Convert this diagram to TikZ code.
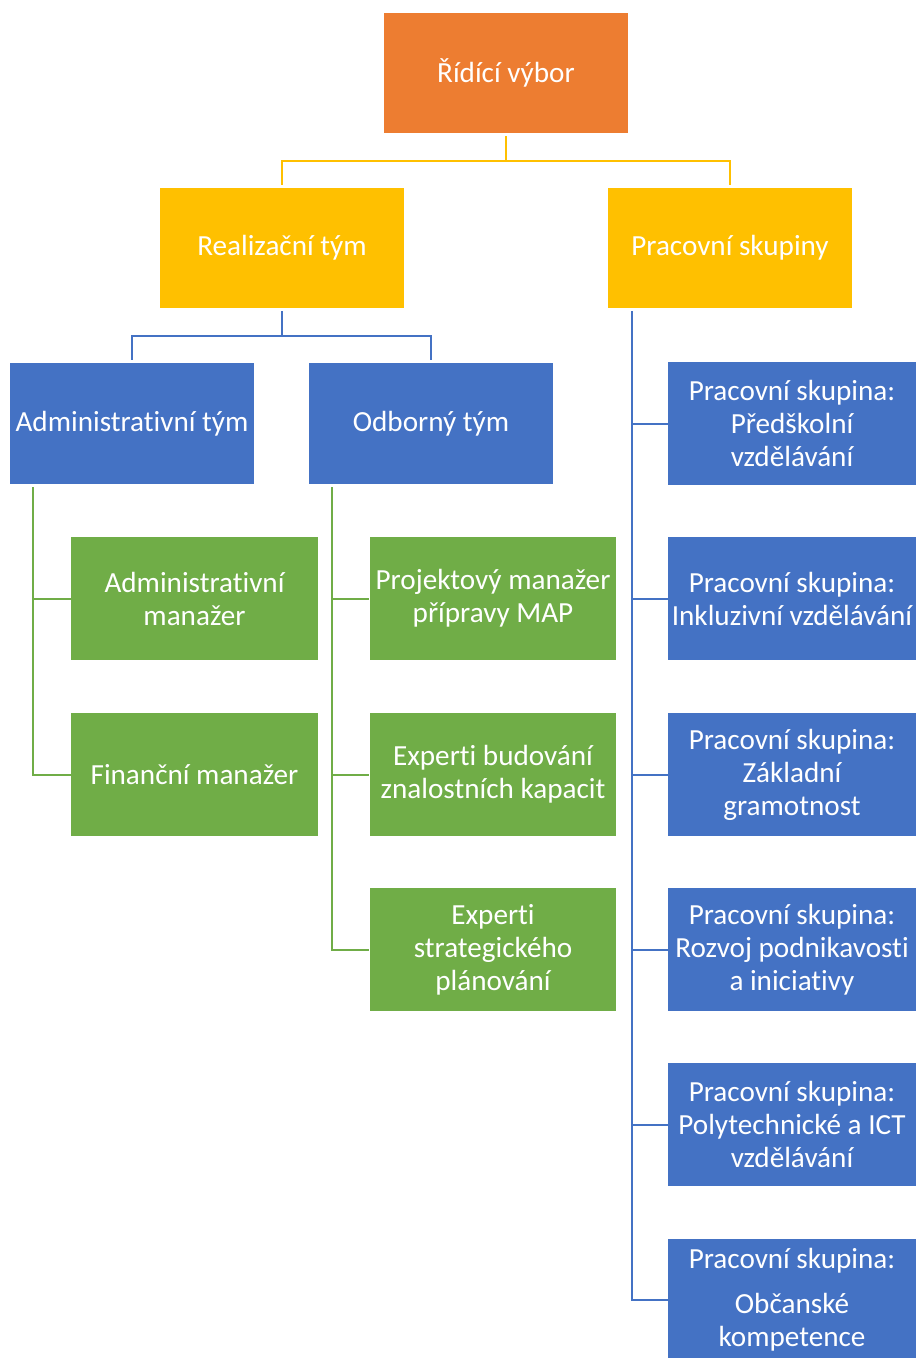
\documentclass[tikz,border=0pt]{standalone}
\usepackage{fontspec}
\setmainfont{Carlito}[RawFeature={-liga;-clig;-calt}]
\usetikzlibrary{calc}
\definecolor{orgorange}{HTML}{ED7D31}
\definecolor{orgyellow}{HTML}{FFC000}
\definecolor{orgblue}{HTML}{4472C4}
\definecolor{orggreen}{HTML}{70AD47}
\tikzset{
  orgbox/.style={text=white, align=center, inner sep=1pt,
    font=\fontsize{16.6}{18.8}\selectfont},
  topbox/.style={orgbox, minimum width=4.88cm, minimum height=2.4cm},
  teambox/.style={orgbox, fill=orgblue, minimum width=4.88cm, minimum height=2.42cm},
  memberbox/.style={orgbox, fill=orggreen, minimum width=4.94cm, minimum height=2.46cm},
  groupbox/.style={orgbox, fill=orgblue, minimum width=4.96cm, minimum height=2.46cm},
  link/.style={line width=0.04cm, shorten <=0.06cm, shorten >=0.06cm},
  trunk/.style={line width=0.04cm}
}
\begin{document}
\begin{tikzpicture}[x=0.02cm, y=-0.02cm]
\useasboundingbox (0,0) rectangle (916,1358);
\node[topbox, fill=orgorange] (ridici) at (506,73) {Řídící výbor};
\node[topbox, fill=orgyellow] (realiz) at (282,248) {Realizační tým};
\node[topbox, fill=orgyellow] (skupiny) at (730,248) {Pracovní skupiny};
\node[teambox] (admtym) at (132,423.5) {Administrativní tým};
\node[teambox] (odbtym) at (431,423.5) {Odborný tým};
\node[memberbox] (admman) at (194.5,598.5) {Administrativní\\manažer};
\node[memberbox] (finman) at (194.5,774.5) {Finanční manažer};
\node[memberbox] (projman) at (493,598.5) {Projektový manažer\\přípravy MAP};
\node[memberbox] (expbud) at (493,774.5) {Experti budování\\znalostních kapacit};
\node[memberbox] (expstr) at (493,949.5) {Experti\\strategického\\plánování};
\node[groupbox] (predskol) at (792,423.5) {Pracovní skupina:\\Předškolní\\vzdělávání};
\node[groupbox] (inkluz) at (792,598.5) {Pracovní skupina:\\Inkluzivní vzdělávání};
\node[groupbox] (gramot) at (792,774.5) {Pracovní skupina:\\Základní\\gramotnost};
\node[groupbox] (podnik) at (792,949.5) {Pracovní skupina:\\Rozvoj podnikavosti\\a iniciativy};
\node[groupbox] (polytech) at (792,1124.5) {Pracovní skupina:\\Polytechnické a ICT\\vzdělávání};
\node[groupbox] (obcan) at (792,1300) {Pracovní skupina:\\[0.24cm]Občanské\\kompetence};
\draw[link, orgyellow] (ridici.south) -- ++(0,28) -| (realiz.north);
\draw[link, orgyellow] (ridici.south) -- ++(0,28) -| (skupiny.north);
\draw[link, orgblue] (realiz.south) -- ++(0,28) -| (admtym.north);
\draw[link, orgblue] (realiz.south) -- ++(0,28) -| (odbtym.north);
\coordinate (admtrunk) at ($(admtym.south west)+(23,3)$);
\coordinate (odbtrunk) at ($(odbtym.south west)+(23,3)$);
\coordinate (skuptrunk) at ($(skupiny.south west)+(24,3)$);
\draw[trunk, orggreen] (admtrunk) |- (admman.west);
\draw[trunk, orggreen] (admtrunk) |- (finman.west);
\draw[trunk, orggreen] (odbtrunk) |- (projman.west);
\draw[trunk, orggreen] (odbtrunk) |- (expbud.west);
\draw[trunk, orggreen] (odbtrunk) |- (expstr.west);
\draw[trunk, orgblue] (skuptrunk) |- (predskol.west);
\draw[trunk, orgblue] (skuptrunk) |- (inkluz.west);
\draw[trunk, orgblue] (skuptrunk) |- (gramot.west);
\draw[trunk, orgblue] (skuptrunk) |- (podnik.west);
\draw[trunk, orgblue] (skuptrunk) |- (polytech.west);
\draw[trunk, orgblue] (skuptrunk) |- (obcan.west);
\end{tikzpicture}
\end{document}
